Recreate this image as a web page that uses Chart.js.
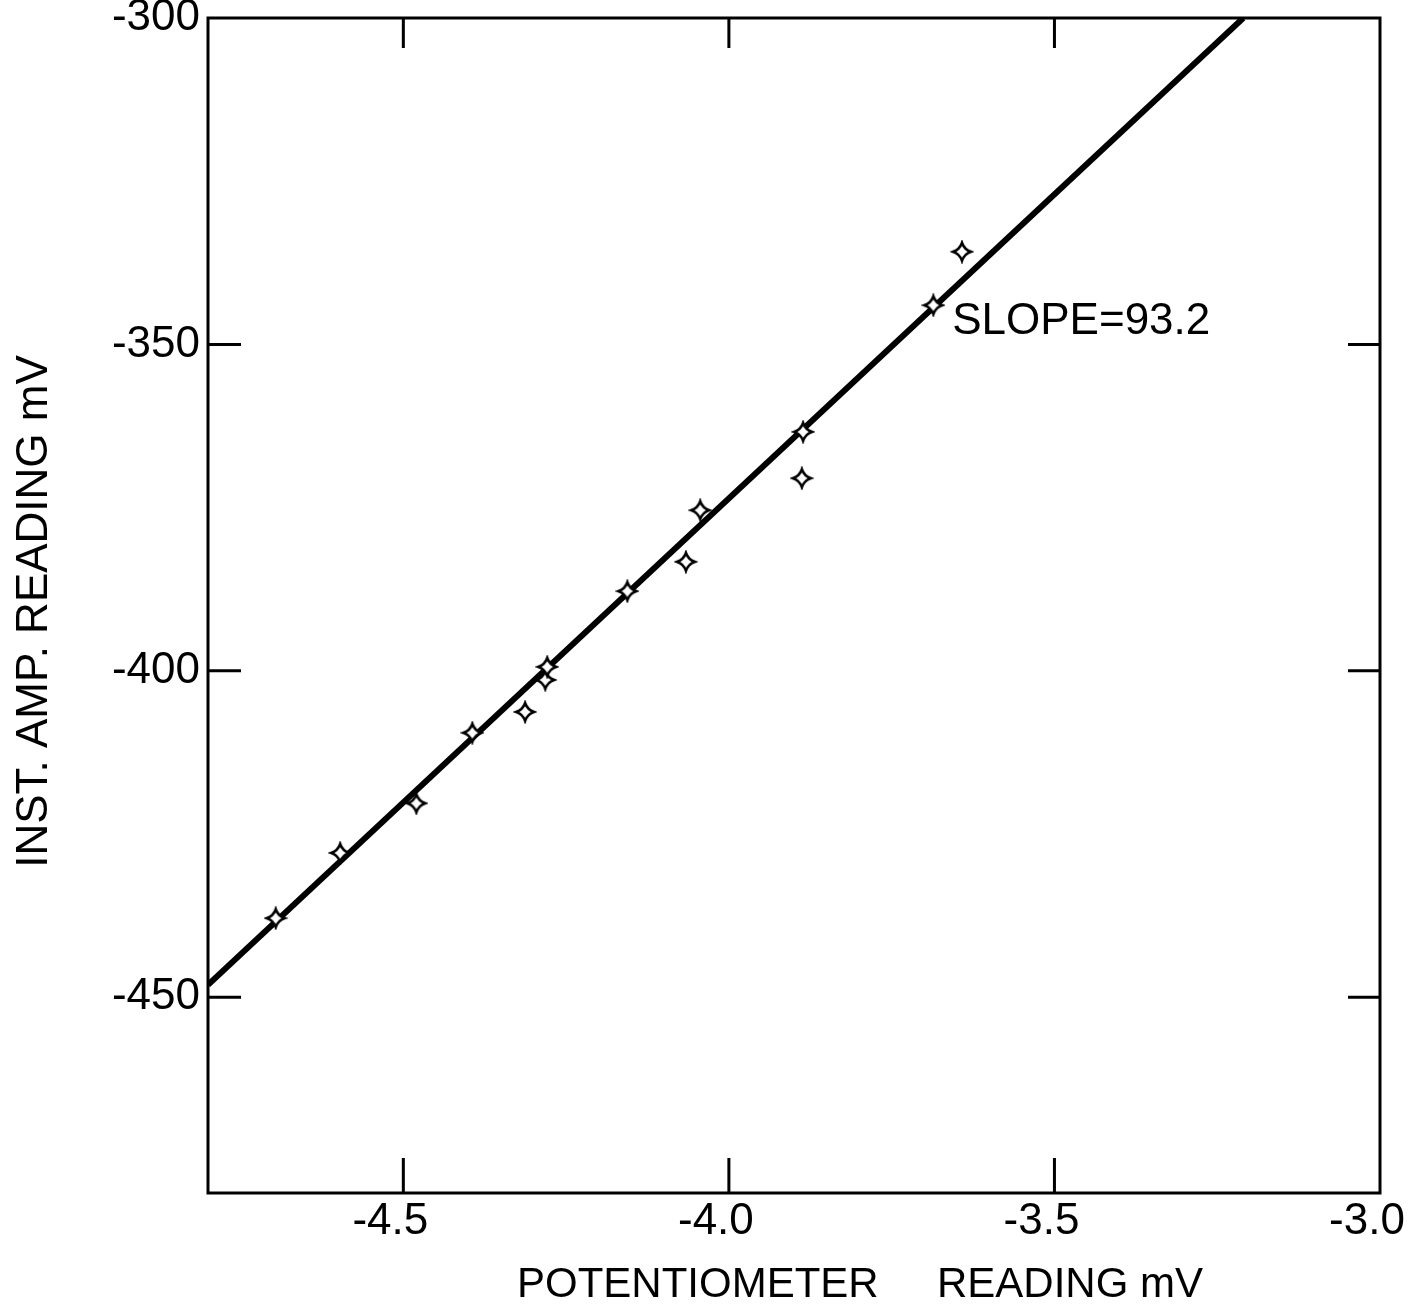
<!DOCTYPE html>
<html>
<head>
<meta charset="utf-8">
<title>Inst. amp. reading vs potentiometer reading</title>
<script src="https://cdn.jsdelivr.net/npm/chart.js@4/dist/chart.umd.min.js"></script>
<style>
  html, body { margin: 0; padding: 0; background: #fff; }
  canvas { display: block; }
</style>
</head>
<body>
<canvas id="calib" width="1412" height="1309"></canvas>
<script>
const potReading = [-4.696, -4.597, -4.480, -4.394, -4.313, -4.282, -4.279, -4.156, -4.066, -4.044, -3.888, -3.886, -3.686, -3.642];
const ampReading = [-437.9, -427.9, -420.3, -409.5, -406.3, -401.4, -399.4, -387.8, -383.3, -375.4, -370.5, -363.4, -344.0, -335.8];

// fitted straight line, end points
const fitX = [-4.8, -3.21];
const fitY = [-448.1, -300.0];

// axes
const xRange = [-4.8, -3.0];
const yRange = [-480, -300];
const xStep = 0.5;
const yStep = 50;

const xTitle = 'POTENTIOMETER     READING mV';
const yTitle = 'INST. AMP. READING mV';
const slopeText = 'SLOPE=93.2';
const slopeAt = [-3.657, -346.6];

const FONT = '"Liberation Sans", Arial, sans-serif';

// hollow four-pointed star used for the data points
function starMarker(R) {
    const c = document.createElement('canvas');
    const s = Math.ceil(R * 2 + 6);
    c.width = s; c.height = s;
    const g = c.getContext('2d');
    g.translate(s / 2, s / 2);
    const k = R * 0.25;
    g.beginPath();
    g.moveTo(0, -R);
    g.quadraticCurveTo(k, -k, R, 0);
    g.quadraticCurveTo(k, k, 0, R);
    g.quadraticCurveTo(-k, k, -R, 0);
    g.quadraticCurveTo(-k, -k, 0, -R);
    g.closePath();
    g.fillStyle = '#fff';
    g.fill();
    g.lineWidth = 2.5;
    g.strokeStyle = '#000';
    g.stroke();
    return c;
}

// box, inward tick marks on all four sides, titles and the slope note
const framePlugin = {
    id: 'frame',
    afterDraw(chart) {
        const { ctx, chartArea: a, scales: { x, y } } = chart;
        ctx.save();
        ctx.strokeStyle = '#000';
        ctx.lineWidth = 3;
        ctx.strokeRect(a.left, a.top, a.right - a.left, a.bottom - a.top);

        ctx.beginPath();
        x.ticks.forEach(t => {
            if (t.value <= x.min || t.value >= x.max) return;
            const px = x.getPixelForValue(t.value);
            ctx.moveTo(px, a.bottom); ctx.lineTo(px, a.bottom - 35);
            ctx.moveTo(px, a.top); ctx.lineTo(px, a.top + 30);
        });
        y.ticks.forEach(t => {
            if (t.value <= y.min || t.value >= y.max) return;
            const py = y.getPixelForValue(t.value);
            ctx.moveTo(a.left, py); ctx.lineTo(a.left + 33, py);
            ctx.moveTo(a.right, py); ctx.lineTo(a.right - 32, py);
        });
        ctx.stroke();

        ctx.fillStyle = '#000';
        ctx.textBaseline = 'middle';

        // slope note
        ctx.font = '44px ' + FONT;
        ctx.textAlign = 'left';
        ctx.fillText(slopeText, x.getPixelForValue(slopeAt[0]), y.getPixelForValue(slopeAt[1]));

        // x title
        ctx.font = '42px ' + FONT;
        ctx.textAlign = 'center';
        ctx.fillText(xTitle, (a.left + a.right) / 2 + 66, a.bottom + 92);

        // y title
        ctx.font = '44px ' + FONT;
        ctx.translate(35, (a.top + a.bottom) / 2 + 6);
        ctx.rotate(-Math.PI / 2);
        ctx.fillText(yTitle, 0, 0);
        ctx.restore();
    }
};

const ctx = document.getElementById('calib').getContext('2d');

new Chart(ctx, {
    type: 'scatter',
    data: {
        datasets: [
            {
                label: 'readings',
                data: potReading.map((v, i) => ({ x: v, y: ampReading[i] })),
                pointStyle: starMarker(9),
                pointRadius: 9,
                order: 0,
            },
            {
                label: 'fit',
                data: fitX.map((v, i) => ({ x: v, y: fitY[i] })),
                showLine: true,
                borderColor: '#000',
                borderWidth: 6,
                pointRadius: 0,
                order: 1,
            }
        ]
    },
    options: {
        responsive: false,
        animation: false,
        devicePixelRatio: 1,
        layout: {
            padding: { top: 18, right: 32, left: 0, bottom: 0 },
        },
        scales: {
            x: {
                type: 'linear',
                min: xRange[0],
                max: xRange[1],
                grid: { display: false, drawTicks: false },
                border: { display: false },
                ticks: {
                    stepSize: xStep,
                    includeBounds: false,
                    maxRotation: 0,
                    padding: 2,
                    labelOffset: -13,
                    color: '#000',
                    font: { family: FONT, size: 44 },
                    callback: v => v.toFixed(1),
                },
                afterFit(scale) {
                    scale.height = 116;
                    scale.paddingLeft = 0;
                    scale.paddingRight = 0;
                },
            },
            y: {
                type: 'linear',
                min: yRange[0],
                max: yRange[1],
                grid: { display: false, drawTicks: false },
                border: { display: false },
                ticks: {
                    stepSize: yStep,
                    includeBounds: false,
                    padding: 8,
                    color: '#000',
                    font: { family: FONT, size: 44 },
                    callback: v => String(v),
                },
                afterFit(scale) {
                    scale.width = 208;
                    scale.paddingTop = 0;
                    scale.paddingBottom = 0;
                },
            },
        },
        plugins: {
            legend: { display: false },
            tooltip: { enabled: false },
        },
    },
    plugins: [framePlugin],
});
</script>
</body>
</html>
